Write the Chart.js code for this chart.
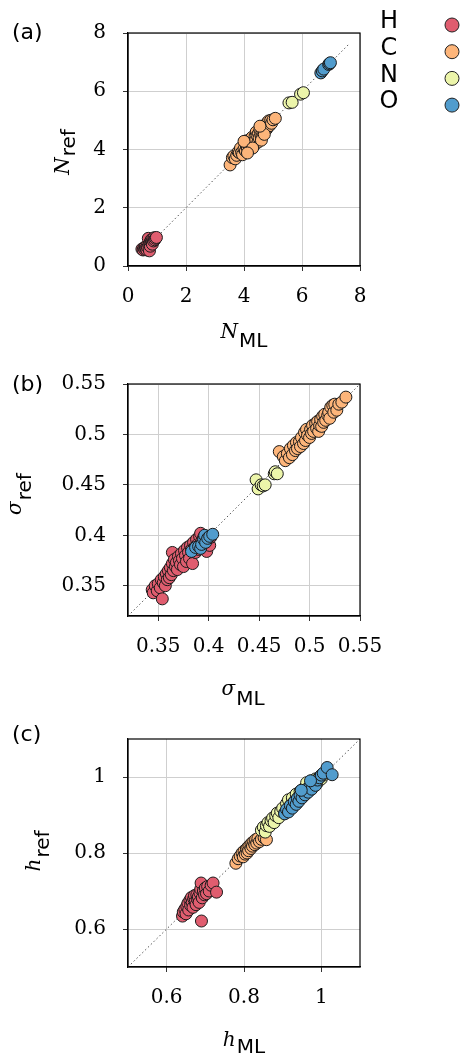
<!DOCTYPE html>
<html>
<head>
<meta charset="utf-8">
<script src="https://cdn.jsdelivr.net/npm/chart.js@4.4.1/dist/chart.umd.min.js"></script>
<style>
  body { margin: 0; background: #fff; width: 461px; height: 1055px; position: relative; overflow: hidden; }
  canvas { position: absolute; left: 0; }
</style>
</head>
<body>
<canvas id="panelA" width="461" height="355" style="top:0"></canvas>
<canvas id="panelB" width="461" height="355" style="top:355px"></canvas>
<canvas id="panelC" width="461" height="345" style="top:710px"></canvas>
<script>
const elements = ['H', 'C', 'N', 'O']

// (a) electron count N
const nTicks = [0, 2, 4, 6, 8]
const nDiag = [0.45, 7.6]
const nH_ml = [0.48, 0.52, 0.55, 0.58, 0.60, 0.62, 0.65, 0.66, 0.68, 0.70, 0.72, 0.74, 0.75, 0.77, 0.78, 0.80, 0.82, 0.84, 0.85, 0.88, 0.90, 0.92, 0.95, 0.98]
const nH_ref = [0.58, 0.55, 0.62, 0.57, 0.66, 0.60, 0.55, 0.70, 0.64, 0.95, 0.72, 0.52, 0.78, 0.68, 0.85, 0.90, 0.82, 0.75, 0.93, 0.86, 0.97, 0.90, 0.95, 0.98]
const nC_ml = [3.52, 3.60, 3.65, 3.70, 3.75, 3.80, 3.84, 3.88, 3.92, 3.95, 4.00, 4.02, 4.05, 4.08, 4.10, 4.12, 4.15, 4.20, 4.22, 4.25, 4.28, 4.32, 4.35, 4.38, 4.40, 4.42, 4.45, 4.48, 4.50, 4.52, 4.55, 4.58, 4.60, 4.62, 4.65, 4.68, 4.72, 4.75, 4.78, 4.80, 4.82, 4.85, 4.88, 4.92, 4.95, 5.00, 5.08, 4.00, 4.30, 4.60, 4.70, 4.12, 4.55]
const nC_ref = [3.47, 3.72, 3.78, 3.68, 3.80, 3.92, 3.89, 4.05, 3.90, 3.82, 4.02, 4.25, 3.95, 4.12, 4.30, 4.05, 4.18, 4.10, 4.35, 4.22, 4.42, 4.27, 4.15, 4.45, 4.32, 4.60, 4.48, 4.25, 4.55, 4.40, 4.68, 4.50, 4.75, 4.45, 4.62, 4.80, 4.73, 4.85, 4.70, 4.92, 4.78, 4.98, 4.82, 5.00, 4.90, 5.02, 5.07, 4.28, 4.05, 4.32, 4.52, 3.88, 4.80]
const nN_ml = [5.55, 5.66, 5.95, 6.05]
const nN_ref = [5.60, 5.62, 5.90, 5.95]
const nO_ml = [6.65, 6.70, 6.75, 6.92, 6.95, 6.98]
const nO_ref = [6.63, 6.70, 6.76, 6.92, 6.95, 6.98]

// (b) sigma
const sTicks = [0.35, 0.4, 0.45, 0.5, 0.55]
const sDiag = [0.32, 0.55]
const sH_ml = [0.344, 0.345, 0.347, 0.349, 0.350, 0.352, 0.354, 0.353, 0.355, 0.356, 0.357, 0.358, 0.359, 0.360, 0.361, 0.362, 0.363, 0.364, 0.364, 0.365, 0.366, 0.367, 0.368, 0.369, 0.370, 0.371, 0.372, 0.373, 0.374, 0.375, 0.376, 0.377, 0.378, 0.379, 0.380, 0.381, 0.382, 0.383, 0.384, 0.385, 0.386, 0.387, 0.388, 0.389, 0.390, 0.391, 0.392, 0.393, 0.394, 0.395, 0.396, 0.398, 0.400, 0.401, 0.402]
const sH_ref = [0.346, 0.343, 0.350, 0.345, 0.352, 0.348, 0.337, 0.356, 0.353, 0.359, 0.350, 0.362, 0.356, 0.365, 0.358, 0.368, 0.361, 0.383, 0.372, 0.365, 0.376, 0.369, 0.373, 0.366, 0.379, 0.375, 0.371, 0.382, 0.377, 0.369, 0.385, 0.380, 0.374, 0.388, 0.383, 0.377, 0.390, 0.386, 0.372, 0.393, 0.388, 0.383, 0.396, 0.391, 0.386, 0.399, 0.402, 0.394, 0.389, 0.398, 0.392, 0.384, 0.395, 0.390, 0.398]
const sC_ml = [0.470, 0.474, 0.476, 0.478, 0.480, 0.481, 0.483, 0.484, 0.486, 0.487, 0.488, 0.490, 0.491, 0.492, 0.494, 0.495, 0.496, 0.497, 0.498, 0.500, 0.501, 0.502, 0.503, 0.504, 0.506, 0.507, 0.508, 0.509, 0.510, 0.511, 0.512, 0.513, 0.514, 0.515, 0.516, 0.518, 0.519, 0.520, 0.521, 0.523, 0.524, 0.525, 0.527, 0.529, 0.532, 0.536]
const sC_ref = [0.483, 0.478, 0.474, 0.481, 0.477, 0.486, 0.480, 0.489, 0.484, 0.492, 0.486, 0.493, 0.488, 0.497, 0.491, 0.502, 0.494, 0.505, 0.499, 0.497, 0.505, 0.501, 0.509, 0.503, 0.511, 0.506, 0.513, 0.503, 0.509, 0.515, 0.508, 0.518, 0.512, 0.520, 0.514, 0.519, 0.522, 0.516, 0.527, 0.529, 0.522, 0.530, 0.524, 0.530, 0.532, 0.537]
const sN_ml = [0.447, 0.449, 0.452, 0.454, 0.456, 0.465, 0.466, 0.468]
const sN_ref = [0.455, 0.446, 0.450, 0.449, 0.450, 0.461, 0.463, 0.461]
const sO_ml = [0.383, 0.387, 0.390, 0.392, 0.393, 0.395, 0.396, 0.397, 0.399, 0.401, 0.404]
const sO_ref = [0.384, 0.388, 0.389, 0.387, 0.391, 0.396, 0.400, 0.393, 0.397, 0.399, 0.401]

// (c) hardness h
const hTicks = [0.6, 0.8, 1]
const hDiag = [0.5, 1.1]
const hH_ml = [0.641, 0.643, 0.647, 0.650, 0.652, 0.655, 0.657, 0.660, 0.662, 0.664, 0.666, 0.668, 0.670, 0.672, 0.674, 0.676, 0.678, 0.680, 0.682, 0.684, 0.686, 0.688, 0.689, 0.690, 0.692, 0.695, 0.698, 0.700, 0.703, 0.706, 0.710, 0.715, 0.720, 0.729]
const hH_ref = [0.634, 0.645, 0.652, 0.640, 0.660, 0.668, 0.650, 0.676, 0.662, 0.683, 0.670, 0.657, 0.680, 0.688, 0.672, 0.664, 0.690, 0.678, 0.685, 0.670, 0.695, 0.705, 0.721, 0.621, 0.682, 0.700, 0.690, 0.708, 0.693, 0.712, 0.700, 0.715, 0.721, 0.697]
const hC_ml = [0.779, 0.785, 0.790, 0.795, 0.798, 0.800, 0.803, 0.806, 0.808, 0.810, 0.812, 0.815, 0.818, 0.820, 0.822, 0.825, 0.828, 0.830, 0.833, 0.836, 0.840, 0.845, 0.852, 0.858]
const hC_ref = [0.773, 0.785, 0.792, 0.800, 0.790, 0.805, 0.797, 0.810, 0.800, 0.815, 0.806, 0.820, 0.812, 0.826, 0.818, 0.830, 0.822, 0.835, 0.826, 0.838, 0.830, 0.836, 0.840, 0.835]
const hN_ml = [0.845, 0.850, 0.855, 0.858, 0.862, 0.866, 0.870, 0.874, 0.878, 0.882, 0.886, 0.890, 0.895, 0.900, 0.905, 0.910, 0.915, 0.920, 0.925, 0.930, 0.935, 0.940, 0.945, 0.950, 0.955, 0.960, 0.965, 0.970, 0.975, 0.980, 0.985, 0.990, 0.995, 1.000, 1.005, 0.962]
const hN_ref = [0.860, 0.868, 0.855, 0.872, 0.880, 0.870, 0.885, 0.892, 0.880, 0.898, 0.905, 0.893, 0.910, 0.918, 0.905, 0.930, 0.940, 0.925, 0.945, 0.935, 0.955, 0.945, 0.962, 0.950, 0.970, 0.960, 0.975, 0.968, 0.990, 0.978, 0.995, 0.985, 1.000, 0.995, 1.005, 0.985]
const hO_ml = [0.905, 0.910, 0.915, 0.920, 0.925, 0.930, 0.935, 0.938, 0.942, 0.945, 0.950, 0.955, 0.958, 0.962, 0.966, 0.970, 0.975, 0.980, 0.985, 0.990, 0.995, 1.000, 1.005, 1.015, 1.028, 0.972, 0.948]
const hO_ref = [0.903, 0.915, 0.908, 0.925, 0.918, 0.935, 0.928, 0.944, 0.936, 0.952, 0.945, 0.960, 0.953, 0.968, 0.960, 0.975, 0.968, 0.985, 0.978, 0.992, 0.998, 1.005, 1.010, 1.025, 1.006, 0.990, 0.965]

const colors = ['#e05d6f', '#fdb57a', '#ecf5aa', '#519ccd']
const serif = '"DejaVu Serif", serif'
const sans = '"DejaVu Sans", sans-serif'

const pairs = (xs, ys) => xs.map((x, i) => ({ x, y: ys[i] }))

// italic serif symbol with an upright sans subscript, centred on (x, y)
function mathLabel(ctx, main, sub, x, y, shift, rotate) {
  ctx.save()
  ctx.translate(x, y)
  if (rotate) ctx.rotate(-Math.PI / 2)
  const mainFont = 'italic 20px ' + serif
  const subFont = '20px ' + sans
  ctx.font = mainFont
  const w1 = ctx.measureText(main).width
  ctx.font = subFont
  const w2 = ctx.measureText(sub).width
  const x0 = -(w1 + w2 + 1) / 2
  ctx.fillStyle = '#000'
  ctx.textBaseline = 'alphabetic'
  ctx.textAlign = 'left'
  ctx.font = mainFont
  ctx.fillText(main, x0, 0)
  ctx.font = subFont
  ctx.fillText(sub, x0 + w1 + 1, shift)
  ctx.restore()
}

const decorations = {
  id: 'decorations',
  afterDraw(chart, args, opts) {
    const { ctx, chartArea: a } = chart
    ctx.save()
    ctx.strokeStyle = '#000'
    ctx.lineWidth = 1.2
    ctx.strokeRect(a.left, a.top, a.right - a.left, a.bottom - a.top)

    ctx.fillStyle = '#000'
    ctx.font = '22px ' + sans
    ctx.textBaseline = 'middle'
    ctx.textAlign = 'left'
    ctx.fillText(opts.tag, 12, opts.tagY)

    const xt = opts.xTitle, yt = opts.yTitle
    mathLabel(ctx, xt.main, xt.sub, xt.x, xt.y, xt.shift, false)
    mathLabel(ctx, yt.main, yt.sub, yt.x, yt.y, yt.shift, true)

    if (opts.legend) {
      elements.forEach((el, i) => {
        const cy = 25 + i * 26.7
        ctx.fillStyle = '#000'
        ctx.font = '24px ' + sans
        ctx.textAlign = 'center'
        ctx.textBaseline = 'middle'
        ctx.fillText(el, 389, cy - 3)
        ctx.beginPath()
        ctx.arc(452, cy, 7, 0, Math.PI * 2)
        ctx.fillStyle = colors[i]
        ctx.fill()
        ctx.lineWidth = 1
        ctx.strokeStyle = '#222'
        ctx.stroke()
      })
    }
    ctx.restore()
  }
}

function axis(min, max, ticks, fitKey, fitValue) {
  return {
    type: 'linear',
    min,
    max,
    afterBuildTicks: s => { s.ticks = ticks.map(v => ({ value: v })) },
    afterFit: s => { s[fitKey] = fitValue },
    ticks: {
      autoSkip: false,
      maxRotation: 0,
      padding: fitKey === 'width' ? 17 : 14,
      color: '#000',
      font: { family: serif, size: 20 },
      callback: v => String(+v.toFixed(2))
    },
    grid: { color: '#cfcfcf', lineWidth: 1, tickLength: 5, tickColor: '#333' },
    border: { display: true, color: '#000', width: 1.2 }
  }
}

function panel(id, cfg) {
  const series = cfg.series.map((s, i) => ({
    label: elements[i],
    data: pairs(s[0], s[1]),
    backgroundColor: colors[i],
    borderColor: '#1a1a1a',
    borderWidth: 1,
    pointRadius: 6,
    order: 4 - i
  }))
  series.push({
    label: 'diagonal',
    data: pairs(cfg.diag, cfg.diag),
    showLine: true,
    pointRadius: 0,
    borderColor: '#555',
    borderWidth: 1,
    borderDash: [1.5, 2.5],
    order: 10
  })
  const h = document.getElementById(id).height
  return new Chart(document.getElementById(id), {
    type: 'scatter',
    data: { datasets: series },
    options: {
      responsive: false,
      animation: false,
      layout: { padding: { top: cfg.top, right: 101, left: 0, bottom: 0 } },
      scales: {
        x: axis(cfg.range[0], cfg.range[1], cfg.ticks, 'height', h - cfg.bottom),
        y: axis(cfg.range[0], cfg.range[1], cfg.ticks, 'width', 128)
      },
      plugins: {
        legend: { display: false },
        tooltip: { enabled: false },
        decorations: cfg.deco
      }
    },
    plugins: [decorations]
  })
}

panel('panelA', {
  series: [[nH_ml, nH_ref], [nC_ml, nC_ref], [nN_ml, nN_ref], [nO_ml, nO_ref]],
  diag: nDiag, ticks: nTicks, range: [0, 8], top: 33, bottom: 266,
  deco: {
    tag: '(a)', tagY: 33, legend: true,
    xTitle: { main: 'N', sub: 'ML', x: 244, y: 338, shift: 8.5 },
    yTitle: { main: 'N', sub: 'ref', x: 69, y: 152, shift: 6 }
  }
})

panel('panelB', {
  series: [[sH_ml, sH_ref], [sC_ml, sC_ref], [sN_ml, sN_ref], [sO_ml, sO_ref]],
  diag: sDiag, ticks: sTicks, range: [0.32, 0.55], top: 29, bottom: 261,
  deco: {
    tag: '(b)', tagY: 30, legend: false,
    xTitle: { main: 'σ', sub: 'ML', x: 243, y: 340, shift: 10 },
    yTitle: { main: 'σ', sub: 'ref', x: 21, y: 139, shift: 10 }
  }
})

panel('panelC', {
  series: [[hH_ml, hH_ref], [hC_ml, hC_ref], [hN_ml, hN_ref], [hO_ml, hO_ref]],
  diag: hDiag, ticks: hTicks, range: [0.5, 1.1], top: 24, bottom: 257,
  deco: {
    tag: '(c)', tagY: 25, legend: false,
    xTitle: { main: 'h', sub: 'ML', x: 244, y: 336, shift: 7 },
    yTitle: { main: 'h', sub: 'ref', x: 40, y: 141, shift: 9 }
  }
})
</script>
</body>
</html>
